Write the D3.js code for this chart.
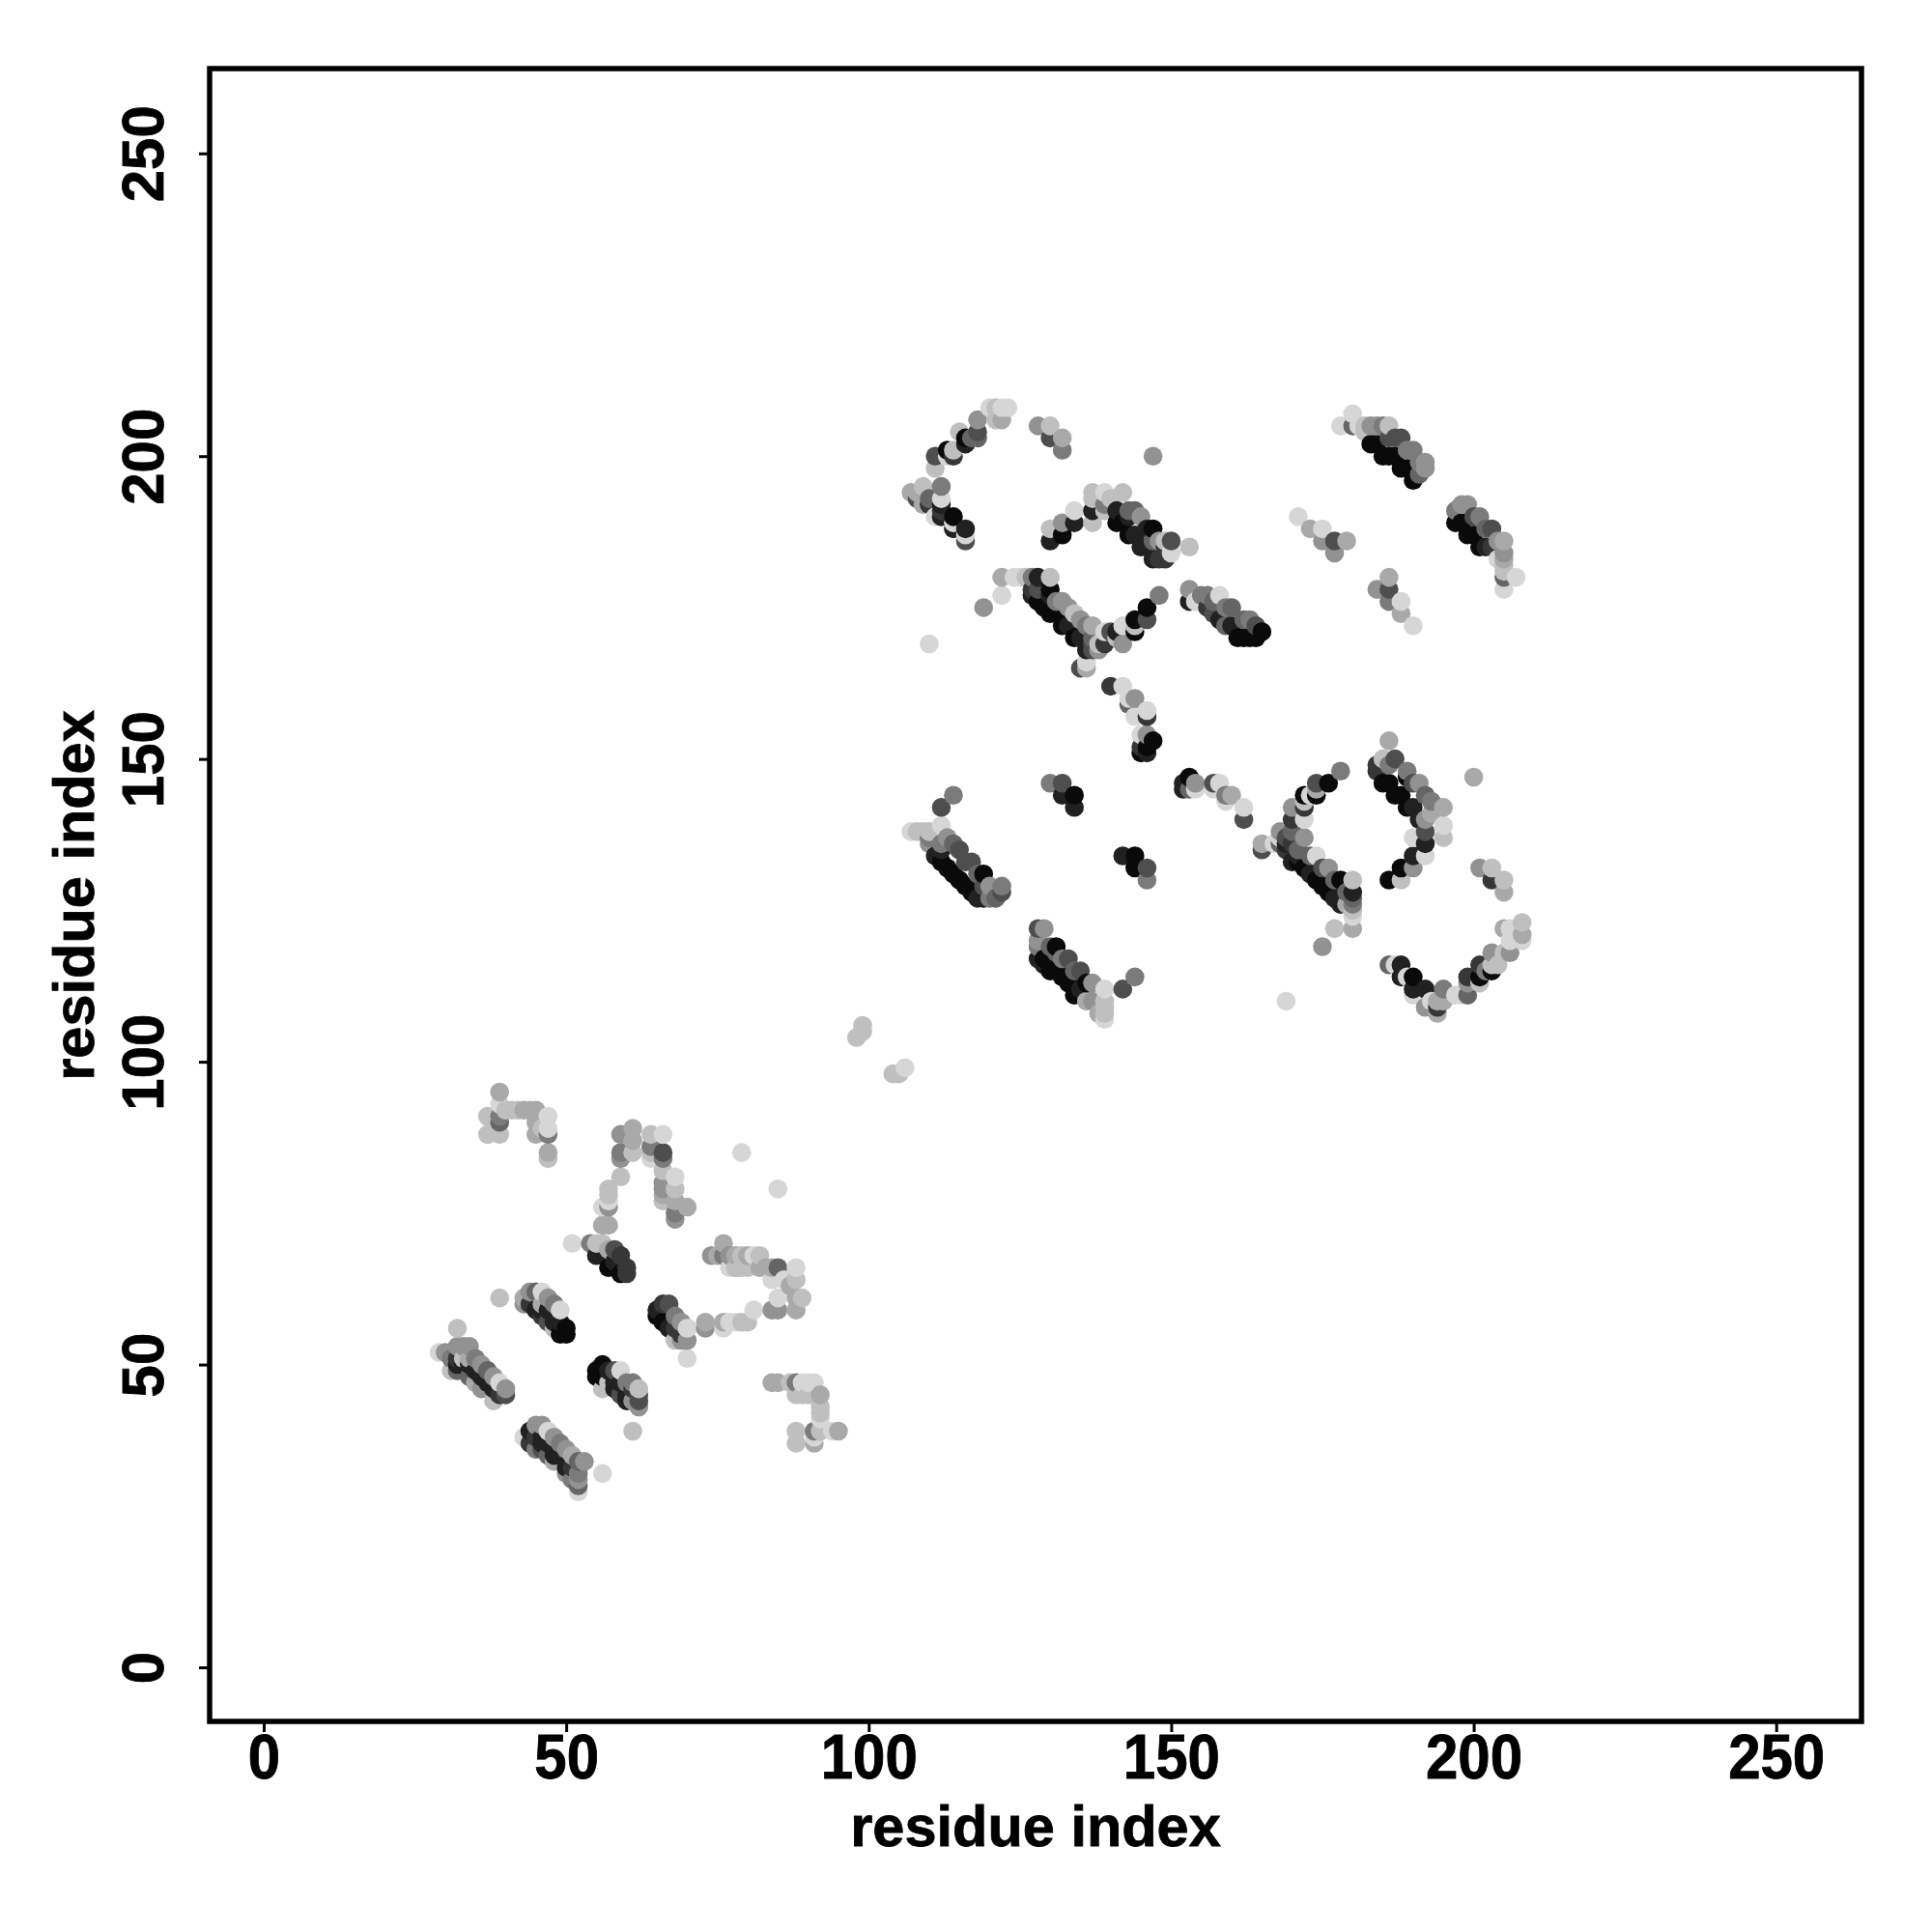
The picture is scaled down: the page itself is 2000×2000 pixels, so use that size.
<!DOCTYPE html>
<html><head><meta charset="utf-8">
<script src="https://cdn.jsdelivr.net/npm/d3@7"></script>
<style>html,body{margin:0;background:#fff}svg{display:block}</style></head>
<body><svg id="c" width="2000" height="2000"></svg>
<script>
const tickValues=[0,50,100,150,200,250];
const axisTitle="residue index";
// contacts: [residue i, residue j, strength 0 (faint) .. 9 (strong)]
const lowerBands=[[29,52,0],[30,52,3],[31,51,4],[31,49,1],[32,53,3],[32,51,7],[32,50,8],[32,49,5],[33,53,3],[33,51,1],[33,50,8],[34,53,3],[34,50,8],[34,48,5],[34,51,2],[35,51,4],[35,49,8],[35,47,2],[36,50,3],[36,48,8],[36,46,3],[37,47,8],[37,49,5],[38,48,3],[38,46,8],[38,44,1],[39,45,7],[39,47,0],[40,46,3],[40,45,6],[32,56,1],[39,61,1],
[43,61,2],[43,60,3],[44,62,3],[44,60,7],[45,62,5],[45,59,8],[46,62,0],[46,60,2],[46,59,8],[46,58,7],[47,61,3],[47,59,8],[47,57,6],[48,60,4],[48,58,8],[48,57,8],[48,56,1],[49,57,8],[49,59,0],[49,55,9],[50,56,9],[50,55,9],
[55,48,9],[55,49,9],[56,50,9],[56,48,9],[56,46,1],[57,49,8],[57,47,1],[58,49,6],[58,47,8],[58,46,8],[59,49,0],[59,47,8],[59,45,6],[60,47,4],[60,45,8],[60,44,8],[61,47,4],[61,46,7],[61,44,3],[62,46,1],[62,45,6],[62,44,6],[62,43,3],[61,39,1],
[43,38,0],[44,39,8],[44,37,7],[45,40,3],[45,38,7],[45,36,4],[46,40,3],[46,38,8],[46,37,8],[46,36,6],[47,39,0],[47,37,8],[47,35,5],[48,38,3],[48,36,8],[48,35,8],[48,34,2],[49,35,8],[49,37,4],[50,36,3],[50,34,8],[50,33,8],[50,32,3],[51,35,2],[51,33,7],[51,31,4],[52,34,5],[52,32,4],[52,31,3],[52,30,5],[52,29,0],[53,34,3],[56,32,0]];
const midLower=[[65,59,8],[65,58,9],[66,60,7],[66,57,9],[67,60,6],[67,56,8],[68,58,4],[68,56,7],[68,54,1],[69,57,3],[69,55,7],[69,54,3],[70,56,2],[70,56,0],[70,54,3],[70,51,0],
[73,57,2],[73,56,3],[76,57,2],[76,56,0],[77,57,0],[78,57,0],[79,57,1],[80,57,1],[81,59,0],[84,59,3],[85,59,3],[88,59,2],[85,61,0],[88,61,2],[89,61,1],[84,64,0],[86,64,0],[88,64,1],[87,63,2],[88,66,0],[85,66,5],[84,66,2],[83,66,2],[82,66,2],[80,66,1],[79,66,1],[78,66,1],[77,66,0],
[74,68,3],[75,68,2],[76,70,2],[76,68,4],[77,68,3],[78,68,2],[79,68,1],[80,68,2],[81,68,0],[78,66,1],[82,68,1],
[84,47,2],[85,47,2],[87,47,1],[88,47,4],[89,47,0],[90,47,0],[91,47,0],[88,45,1],[89,45,1],[90,45,1],[92,45,2],[92,43,1],[92,42,1],[92,41,0],[92,39,1],[88,39,1],[91,39,4],[94,39,0],[95,39,2],[88,37,1],[91,37,2],[91,38,0]];
const upperLeftLoops=[[37,91,1],[37,88,1],[39,95,2],[39,93,0],[39,91,4],[39,90,5],[39,88,1],[40,92,1],[41,92,1],[42,92,1],[43,92,2],[44,92,2],[45,92,2],[45,90,2],[45,88,2],[46,89,1],[47,91,0],[47,89,0],[47,88,4],[47,85,2],[47,84,1],
[59,88,3],[59,85,4],[59,84,3],[59,81,1],[61,89,2],[61,87,2],[61,85,1],[57,79,1],[57,78,1],[56,76,0],[57,77,0],[57,76,3],[56,73,2],[57,73,2],[51,70,0],[54,70,4],[55,70,1],[55,68,8],[56,70,1],[57,69,2],[57,66,9],[58,69,6],[58,67,8],[59,68,7],[59,65,9],[60,66,7],[60,65,7],
[64,88,1],[64,85,1],[64,86,4],[64,84,0],[66,88,0],[66,85,6],[66,84,4],[66,82,1],[66,80,3],[66,79,3],[66,78,2],[66,77,1],[68,81,0],[68,79,1],[68,77,2],[68,75,4],[68,74,3],[70,76,2],[79,85,0],[85,79,0],[98,104,1],[99,106,1],[99,105,1],[104,98,1],[105,98,1],[106,99,0]];
const arcA=[[107,194,2],[108,194,2],[108,193,6],[109,195,1],[109,192,2],[110,193,5],[110,192,7],[111,198,1],[111,200,6],[111,190,0],[112,195,4],[112,193,0],[112,192,8],[112,191,7],[112,190,8],[113,201,9],[113,200,0],[114,200,7],[114,201,1],[114,190,9],[114,188,8],[114,189,0],[116,186,6],[116,187,0],[116,188,8],[115,204,1],[116,202,8],[116,203,9],[117,203,5],[118,203,5],[118,204,6],[118,206,3],[120,208,0],[121,208,1],[122,208,0],[123,208,0],[121,206,1],[122,206,2],[128,205,3],[130,205,1],[130,203,6],[132,203,2],[132,201,4],[147,200,3]];
const arcB=[[130,186,8],[130,188,1],[132,187,9],[132,189,3],[134,189,8],[134,191,0],[137,189,1],[137,191,8],[137,193,1],[137,194,1],[139,194,0],[139,192,4],[139,191,1],[140,193,1],[142,194,1],[141,191,8],[141,189,9],[142,189,9],[143,191,5],[143,190,8],[143,187,9],[144,187,8],[144,191,5],[145,190,3],[145,185,8],[146,185,8],[146,188,8],[147,188,9],[147,186,5],[147,183,8],[148,183,7],[148,186,3],[149,186,1],[149,183,7],[149,185,7],[150,186,6],[150,184,0],[153,185,1]];
const arcC=[[110,169,0],[119,175,3],[122,180,2],[122,177,0],[124,180,0],[125,180,0],[126,180,1],[127,180,4],[127,177,8],[127,178,7],[128,180,8],[128,178,6],[128,176,9],[129,175,9],[130,180,1],[130,178,9],[130,177,8],[130,174,9],[131,174,9],[131,176,4],[132,176,3],[132,172,9],[133,172,8],[133,175,3],[134,174,1],[134,170,9],[135,170,8],[135,173,3],[135,165,6],[136,172,4],[136,169,8],[136,168,8],[136,166,0],[136,165,2],[137,172,2],[137,169,6],[137,170,5],[137,168,6],[138,168,3],[138,169,1],[139,171,0],[139,169,7],[140,171,6],[141,171,8],[141,170,1],[142,172,0],[142,169,3],[144,173,9],[144,171,9],[144,172,1],[146,173,6],[146,175,9],[148,177,4],
[153,178,3],[153,176,8],[154,176,0],[155,177,4],[156,175,7],[156,177,4],[157,174,6],[157,176,5],[158,173,8],[158,177,0],[159,172,5],[159,175,4],[160,175,5],[160,172,8],[161,170,9],[162,170,9],[162,173,5],[163,173,4],[163,170,9],[164,170,9],[164,172,6],[165,171,9]];
const upperRight=[[178,205,0],[180,207,0],[180,205,5],[181,205,0],[182,205,1],[182,204,1],[183,202,9],[183,205,3],[184,202,9],[184,205,3],[185,200,9],[185,205,4],[186,200,9],[186,205,1],[187,200,9],[186,203,6],[188,198,9],[188,203,6],[187,203,6],[189,198,9],[189,201,4],[190,196,9],[190,201,4],[191,197,5],[191,199,4],[192,199,3],[192,198,3],
[197,189,9],[197,191,4],[198,192,3],[198,189,9],[199,187,9],[199,192,3],[200,187,9],[200,190,6],[201,185,9],[201,190,4],[202,185,8],[202,188,5],[203,185,7],[203,188,6],[204,186,3],[204,183,0],[205,186,2],[205,184,3],[205,183,2],[205,182,1],[205,181,1],[205,180,5],[207,180,0],[205,178,0],
[171,190,0],[173,188,2],[175,188,0],[175,186,3],[177,186,6],[179,186,2],[177,184,3],[186,180,2],[184,178,3],[186,178,6],[186,176,4],[188,176,0],[188,174,2],[190,172,0]];
const centerGroups=[[140,162,7],[142,162,0],[144,160,3],[143,159,5],[143,160,0],[144,157,0],[146,158,0],[146,157,7],[145,154,0],[146,154,3],[145,152,7],[145,151,9],[146,152,9],[146,151,8],[147,153,9],
[130,146,4],[132,146,6],[132,144,8],[134,144,9],[134,142,8],[142,134,8],[144,134,9],[144,132,9],[146,132,6],[146,130,4],
[152,146,8],[152,145,8],[153,147,9],[153,145,5],[154,146,3],[154,145,0],[157,146,6],[158,146,0],[157,145,0],[159,144,4],[160,144,2],[159,143,0],[162,142,0],[162,140,6],[165,136,2],[165,135,6],[167,136,0]];
const loopD=[[168,138,3],[168,136,5],[168,137,0],[169,137,6],[169,136,8],[169,135,7],[170,142,3],[170,140,7],[170,138,5],[170,136,7],[170,133,8],[171,134,8],[171,133,9],[171,135,5],[172,144,9],[172,143,1],[172,142,7],[172,140,0],[172,137,3],[172,132,9],[173,144,0],[173,131,8],[173,134,5],[174,146,6],[174,145,2],[174,144,9],[174,134,0],[174,130,9],[175,129,9],[175,132,6],[176,146,9],[176,132,3],[176,128,9],[177,127,8],[177,130,5],[177,122,1],[175,119,3],[178,148,4],[178,130,9],[178,126,8],[179,128,5],[179,126,2],[180,130,1],[180,128,8],[180,127,5],[180,126,4],[180,125,1],[180,124,0],[180,122,2],[169,110,0],
[184,149,7],[184,148,7],[185,146,9],[185,150,1],[186,149,4],[187,150,6],[187,144,9],[186,146,9],[186,153,2],[188,144,9],[189,142,9],[189,147,9],[189,148,4],[190,142,8],[190,146,6],[191,140,8],[191,146,3],[192,144,5],[192,140,3],[192,138,6],[192,136,8],[193,141,2],[193,143,4],[195,142,2],[195,139,0],[195,137,1],[190,137,0],[190,134,8],[192,134,0],[188,132,9],[190,132,3],[186,130,9],[188,130,1],[200,147,2],[201,132,3],[203,132,1],[203,130,7],[205,130,1],[205,128,2]];
const loopE=[[186,116,5],[187,116,0],[188,116,8],[188,114,8],[189,114,0],[190,114,9],[190,112,8],[190,111,0],[192,112,8],[192,109,3],[193,110,0],[194,110,2],[194,109,7],[194,108,2],[195,112,4],[195,110,2],[197,111,0],[198,111,0],[199,114,7],[199,113,3],[199,111,5],[201,116,7],[201,114,9],[201,113,1],[202,115,4],[203,116,1],[203,118,3],[203,115,9],[204,116,1],[205,118,1],[206,118,3],[205,122,2],[206,122,0],[206,120,0],[207,121,0],[208,120,0],[208,123,1],[208,121,2]];
const midBands=[[114,144,4],[112,142,6],[107,138,0],[108,138,1],[109,138,1],[110,137,4],[110,136,3],[110,138,1],[111,134,8],[112,139,0],[112,136,4],[112,135,8],[112,133,9],[113,137,3],[113,132,9],[114,131,9],[114,136,5],[115,135,6],[115,130,9],[116,129,9],[116,133,6],[117,133,6],[117,128,9],[118,127,8],[118,131,5],[119,131,9],[119,129,6],[119,127,8],[120,129,3],[120,127,4],[121,127,5],[122,129,4],[122,128,6],
[128,122,6],[128,120,3],[128,119,4],[128,117,8],[129,122,3],[129,117,9],[129,116,8],[130,115,9],[130,119,5],[131,119,9],[131,118,5],[131,115,9],[132,114,9],[132,117,4],[133,117,6],[133,113,9],[134,111,9],[134,115,5],[135,115,6],[135,112,8],[136,113,9],[136,110,2],[137,113,3],[137,110,3],[138,108,2],[139,112,0],[139,110,1],[139,109,1],[139,108,1],[139,107,0],[142,112,6],[144,114,4]];

const contacts=d3.sort([lowerBands,midLower,upperLeftLoops,arcA,arcB,arcC,upperRight,centerGroups,loopD,loopE,midBands].flat(),(a,b)=>d3.ascending(a[0],b[0])||d3.ascending(a[1],b[1]));

const svg=d3.select("#c");
const x=d3.scaleLinear().domain([-8.94,264.1]).range([217,1927]);
const y=d3.scaleLinear().domain([-8.93,264]).range([1782,71]);
const shade=d3.scaleLinear().domain([0,9]).range(["#d6d6d6","#0a0a0a"]);
const font="'Liberation Sans',Arial,sans-serif";

svg.append("g").selectAll("circle").data(contacts).join("circle")
 .attr("cx",d=>x(d[0])).attr("cy",d=>y(d[1])).attr("r",9.8).attr("fill",d=>shade(d[2]));

const gx=svg.append("g").attr("transform","translate(0,1782)").call(d3.axisBottom(x).tickValues(tickValues).tickSize(11).tickPadding(10));
const gy=svg.append("g").attr("transform","translate(217,0)").call(d3.axisLeft(y).tickValues(tickValues).tickSize(11).tickPadding(0));
for(const g of [gx,gy]){g.select(".domain").remove();g.selectAll("line").attr("stroke","#000").attr("stroke-width",3);
 g.selectAll("text").attr("font-family",font).attr("font-weight","bold").attr("font-size",60).attr("fill","#000").attr("stroke","#000").attr("stroke-width",0.8);}
gx.selectAll("text").attr("y",null).attr("dy",null).attr("transform","translate(0,59) scale(1,1.07)").attr("text-anchor","middle");
gy.selectAll("text").attr("x",null).attr("dy",null).attr("transform","translate(-48,0) rotate(-90) scale(1,1.03)").attr("text-anchor","middle");
svg.append("rect").attr("x",217).attr("y",71).attr("width",1710).attr("height",1711).attr("fill","none").attr("stroke","#000").attr("stroke-width",5.5);
const titleStyle=s=>s.attr("text-anchor","middle").attr("font-family",font).attr("font-weight","bold").attr("font-size",59.5).attr("stroke","#000").attr("stroke-width",0.8);
svg.append("text").text(axisTitle).attr("x",1072).attr("y",1911).call(titleStyle);
svg.append("text").text(axisTitle).attr("transform","translate(97,927) rotate(-90)").call(titleStyle);
</script></body></html>
